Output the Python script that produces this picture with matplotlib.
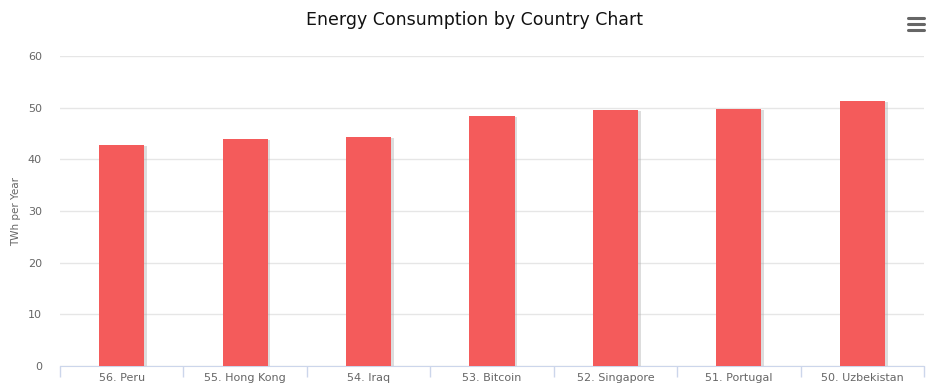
import matplotlib.pyplot as plt
import matplotlib.patheffects as pe
import numpy as np

countries = ["56. Peru", "55. Hong Kong", "54. Iraq", "53. Bitcoin",
             "52. Singapore", "51. Portugal", "50. Uzbekistan"]
twh = [42.8, 43.9, 44.3, 48.4, 49.5, 49.7, 51.3]
yticks = [0, 10, 20, 30, 40, 50, 60]

fig = plt.figure(figsize=(9.48, 3.88), dpi=100)
ax = fig.add_axes([60 / 948, 22 / 388, 864 / 948, 310 / 388])

x = np.arange(len(countries))
bars = ax.bar(x, twh, width=0.365, color='#f45b5b', zorder=3)
for b in bars:
    b.set_path_effects([pe.SimplePatchShadow(offset=(2, -0.5), shadow_rgbFace='#aaaaaa', alpha=0.4),
                        pe.Normal()])

ax.set_xlim(-0.5, len(countries) - 0.5)
ax.set_ylim(0, 60)
ax.set_yticks(yticks)
ax.set_xticks(x)
ax.set_xticklabels(countries)
ax.set_xticks(np.arange(-0.5, len(countries)), minor=True)

ax.grid(axis='y', color='#e6e6e6', linewidth=1, zorder=0)
for s in ['top', 'right', 'left']:
    ax.spines[s].set_visible(False)
ax.spines['bottom'].set_color('#ccd6eb')

ax.tick_params(axis='y', length=0, labelsize=8, labelcolor='#666666', pad=13)
ax.tick_params(axis='x', which='major', length=0, labelsize=8, labelcolor='#666666', pad=5)
ax.tick_params(axis='x', which='minor', length=8, color='#ccd6eb', width=1)

ax.set_ylabel('TWh per Year', fontsize=7.5, color='#666666', labelpad=5)

fig.text(0.5, 1 - 20 / 388, 'Energy Consumption by Country Chart',
         ha='center', va='center', fontsize=12.5, color='#111111')

# menu icon
for yy in [18, 24, 30]:
    fig.add_artist(plt.Line2D([908 / 948, 924 / 948], [1 - yy / 388] * 2,
                              color='#666666', linewidth=2.2, solid_capstyle='round'))

fig.savefig('out.png', dpi=100)
